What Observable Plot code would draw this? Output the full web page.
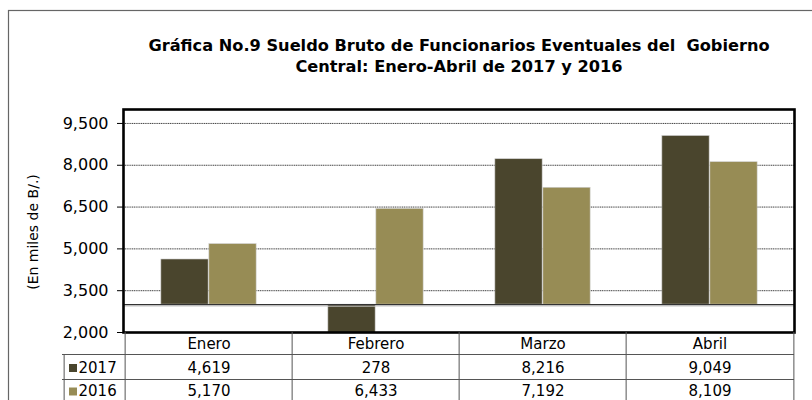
<!DOCTYPE html>
<html>
<head>
<meta charset="utf-8">
<script src="https://cdn.jsdelivr.net/npm/d3@7"></script>
<script src="https://cdn.jsdelivr.net/npm/@observablehq/plot@0.6"></script>
<style>
  html, body { margin: 0; padding: 0; background: #fff; }
  svg text { white-space: pre; }
</style>
</head>
<body>
<div id="chart"></div>
<script>
// ---- data ----
const titleLines = ["Gráfica No.9 Sueldo Bruto de Funcionarios Eventuales del  Gobierno", "Central: Enero-Abril de 2017 y 2016"];
const yLabel = "(En miles de B/.)";
const months = ["Enero", "Febrero", "Marzo", "Abril"];
const years = ["2017", "2016"];
const values2017 = [4619, 278, 8216, 9049];
const values2016 = [5170, 6433, 7192, 8109];
const yTicks = [2000, 3500, 5000, 6500, 8000, 9500];
const yDomain = [2000, 10000];
const axisCross = 3000;
const colors = {"2017": "#4a452d", "2016": "#978c55"};

// ---- layout ----
const W = 812, H = 400;
const mL = 123, mR = 18, mT = 109, mB = 68;
const bw = (W - mL - mR) / months.length;
const barW = 48;
const frameH = H - mT - mB;

const rows2017 = months.map((m, i) => ({month: m, year: "2017", value: values2017[i]}));
const rows2016 = months.map((m, i) => ({month: m, year: "2016", value: values2016[i]}));
const fmt = d3.format(",");
const rowDy = {"2017": 35.5, "2016": 59};

const plot = Plot.plot({
  width: W,
  height: H,
  marginLeft: mL,
  marginRight: mR,
  marginTop: mT,
  marginBottom: mB,
  style: {fontFamily: "DejaVu Sans", fontSize: "16px", background: "white", color: "black", overflow: "visible"},
  x: {domain: months, padding: 0, axis: null},
  y: {domain: yDomain, ticks: yTicks, tickFormat: d => fmt(d), tickSize: 6, tickPadding: 9, label: null},
  marks: [
    // outer chart-area border (top & left visible)
    Plot.frame({stroke: "#666", strokeWidth: 1.2, insetTop: -(mT - 10), insetLeft: -(mL - 8), insetRight: -(mR + 20), insetBottom: -(mB + 20)}),
    // title
    Plot.text([titleLines[0]], {frameAnchor: "top", lineAnchor: "middle", dy: -64, text: d => d, fontWeight: "bold", fontSize: 16.2}),
    Plot.text([titleLines[1]], {frameAnchor: "top", lineAnchor: "middle", dy: -43, text: d => d, fontWeight: "bold", fontSize: 16.2}),
    // y label
    Plot.text([yLabel], {frameAnchor: "left", textAnchor: "middle", lineAnchor: "middle", dx: -90, dy: 11, rotate: -90, text: d => d, fontSize: 14}),
    // grid
    Plot.ruleY(yTicks.filter(t => t > yDomain[0]), {stroke: "#444", strokeDasharray: "1.2,0.6", strokeWidth: 1}),
    // bars
    Plot.barY(rows2017, {x: "month", y1: () => axisCross, y2: "value", fill: colors["2017"], stroke: "#cfcfcf", strokeWidth: 0.6,
      insetLeft: bw / 2 - barW, insetRight: bw / 2, clip: true}),
    Plot.barY(rows2016, {x: "month", y1: () => axisCross, y2: "value", fill: colors["2016"], stroke: "#cfcfcf", strokeWidth: 0.6,
      insetLeft: bw / 2, insetRight: bw / 2 - barW, clip: true}),
    // baseline where category axis crosses
    Plot.ruleY([axisCross], {stroke: "#d0d0d0", strokeWidth: 1, dy: 1.5}),
    Plot.ruleY([axisCross], {stroke: "#333", strokeWidth: 1.3}),
    // plot frame
    Plot.frame({stroke: "black", strokeWidth: 2.6}),
    // data table grid
    Plot.ruleX(months, {x: d => d, dx: -bw / 2, insetTop: frameH, insetBottom: -(mB + 4), stroke: "#555", strokeWidth: 1}),
    Plot.ruleX([months[months.length - 1]], {x: d => d, dx: bw / 2, insetTop: frameH, insetBottom: -(mB + 4), stroke: "#555", strokeWidth: 1}),
    Plot.ruleX([months[0]], {x: d => d, dx: -bw / 2 - 61, insetTop: frameH + 22, insetBottom: -(mB + 4), stroke: "#555", strokeWidth: 1}),
    Plot.ruleY([yDomain[0]], {dy: 22, insetLeft: -61, stroke: "#555", strokeWidth: 1}),
    Plot.ruleY([yDomain[0]], {dy: 47, insetLeft: -61, stroke: "#555", strokeWidth: 1}),
    // table header
    Plot.text(months, {x: d => d, text: d => d, frameAnchor: "bottom", lineAnchor: "middle", dy: 11.5, fontSize: 15}),
    // table rows
    Plot.text(rows2017, {x: "month", text: d => fmt(d.value), frameAnchor: "bottom", lineAnchor: "middle", dy: rowDy["2017"], fontSize: 15}),
    Plot.text(rows2016, {x: "month", text: d => fmt(d.value), frameAnchor: "bottom", lineAnchor: "middle", dy: rowDy["2016"], fontSize: 15}),
    // legend keys in table
    ...years.map(yr => Plot.dot([yr], {frameAnchor: "bottom-left", dx: -50.5, dy: rowDy[yr], symbol: "square", r: 4.5, fill: colors[yr]})),
    ...years.map(yr => Plot.text([yr], {frameAnchor: "bottom-left", textAnchor: "start", lineAnchor: "middle", dx: -45, dy: rowDy[yr], text: d => d, fontSize: 15})),
  ]
});
document.getElementById("chart").appendChild(plot);
</script>
</body>
</html>
